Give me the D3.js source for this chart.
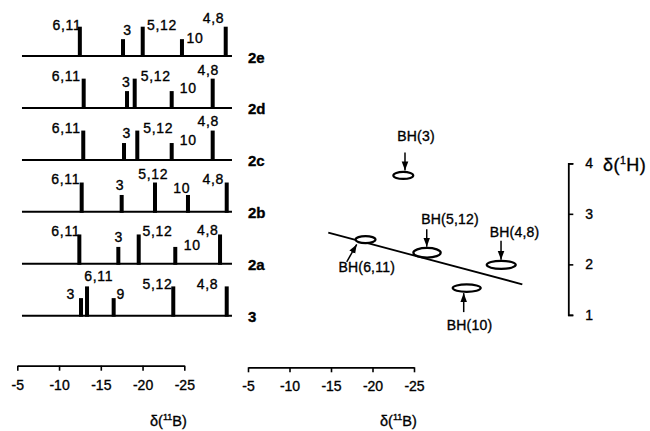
<!DOCTYPE html>
<html><head><meta charset="utf-8">
<script src="https://cdn.jsdelivr.net/npm/d3@7"></script>
<style>
body{margin:0;background:#fff}
svg{display:block;font-family:"Liberation Sans",Arial,Helvetica,sans-serif}
svg text{stroke:#000;stroke-width:0.35px;fill:#000}
</style></head><body>
<svg id="c" width="650" height="431"></svg>
<script>
// ---------- data ----------
const spectrumIds = ["2e","2d","2c","2b","2a","3"];
const peakLabels = [
  ["6,11","3","5,12","10","4,8"],
  ["6,11","3","5,12","10","4,8"],
  ["6,11","3","5,12","10","4,8"],
  ["6,11","3","5,12","10","4,8"],
  ["6,11","3","5,12","10","4,8"],
  ["3","6,11","9","5,12","4,8"]
];
// δ(11B)
const peakShifts = [
  [-12.49,-17.66,-20.02,-24.72,-29.96],
  [-12.95,-18.14,-19.06,-23.49,-28.40],
  [-12.90,-17.78,-19.37,-23.49,-28.40],
  [-12.71,-17.50,-21.49,-25.44,-30.08],
  [-12.43,-17.10,-19.54,-23.92,-29.28],
  [-12.63,-13.35,-16.54,-23.68,-30.08]
];
const peakIntensities = [
  [2,1.15,2,1.15,2],
  [2,1.15,2,1.15,2],
  [2,1.15,2,1.15,2],
  [2,1.15,2,1.15,2],
  [2,1.15,2,1.15,2],
  [1.2,2,1.2,2,2]
];
const baselineExtent = [-5.56,-30.71];
const xTicks = [-5,-10,-15,-20,-25];

const crossLabels = ["BH(6,11)","BH(3)","BH(5,12)","BH(10)","BH(4,8)"];
const crossB = [-19.16,-23.71,-26.57,-31.35,-35.51];
const crossH = [2.49,3.76,2.23,1.53,1.99];
const crossHalfWidthB = [1.2,1.2,1.65,1.69,1.75];
const crossHalfHeightH = [0.07,0.07,0.095,0.073,0.079];
const corrLineB = [-14.67,-38.05];
const corrLineH = [2.627,1.606];
const hTicks = [1,2,3,4];

// ---------- layout (pixel offsets for annotations) ----------
const peakLabelOffsets = [
  [[-12.8,-2],[4.5,-9.5],[19.3,-2],[13,-1],[-12.2,-9]],
  [[-17.5,-2.3],[-0.7,-8.7],[21.1,-2.3],[16.6,-2.7],[-4.5,-8.3]],
  [[-17.1,-2.7],[2.7,-10.3],[20.9,-2.7],[16.6,-3.3],[-4.5,-9.7]],
  [[-15.9,-4],[-1.7,-9.7],[-1.7,-9],[-6.3,-6.7],[-13.5,-3.7]],
  [[-13.5,-3.3],[0.5,-9.7],[18.8,-3.3],[16.9,-1.7],[-12.2,-4]],
  [[-10.2,-4.3],[11.7,-10.5],[7.1,-4.3],[-15.8,-2.5],[-19.2,-2.5]]
];
// [labelDx,labelDy, arrowX0,arrowY0, arrowX1,arrowY1] relative to ellipse centre
const crossAnnot = [
  [1.2,27.2,-18.8,22.2,-8.8,4.8],
  [12.7,-39.5,1.7,-23,1.7,-5],
  [23,-34.2,-0.3,-23.5,-0.3,-6],
  [2.8,37,-3,24,-3,5],
  [13.3,-33.3,-0.2,-24,-0.2,-5]
];

const svg = d3.select("#c");
svg.append("defs").append("marker")
  .attr("id","ah").attr("markerUnits","userSpaceOnUse")
  .attr("viewBox","0 -4 9 8").attr("refX",9).attr("refY",0)
  .attr("markerWidth",9).attr("markerHeight",8).attr("orient","auto")
  .append("path").attr("d","M0,-3.3L9,0L0,3.3Z").attr("fill","#000");

// ---------- left: stacked 11B spectra ----------
const xL = d3.scaleLinear().domain([-5,-25]).range([17.3,184.3]);
const yRow = d3.scalePoint().domain(spectrumIds).range([56,315.7]);
const hScale = d3.scaleLinear().domain([0,2]).range([0,29.3]);

spectrumIds.forEach((id,i)=>{
  const g = svg.append("g");
  const y0 = yRow(id);
  g.append("line")
    .attr("x1",xL(baselineExtent[0])).attr("x2",xL(baselineExtent[1]))
    .attr("y1",y0).attr("y2",y0).attr("stroke","#000").attr("stroke-width",2);
  const peaks = peakShifts[i].map((s,j)=>({s,h:peakIntensities[i][j],label:peakLabels[i][j],off:peakLabelOffsets[i][j]}));
  g.selectAll("rect").data(peaks).join("rect")
    .attr("x",d=>xL(d.s)-2).attr("width",4)
    .attr("y",d=>y0-hScale(d.h)).attr("height",d=>hScale(d.h)+1).attr("fill","#000");
  g.selectAll("text.pk").data(peaks).join("text").attr("class","pk")
    .attr("x",d=>xL(d.s)+d.off[0]).attr("y",d=>y0-hScale(d.h)+d.off[1])
    .attr("text-anchor","middle").attr("dominant-baseline","central")
    .attr("font-size",14).attr("letter-spacing",0.7).text(d=>d.label);
  g.append("text").attr("x",248).attr("y",y0+1).attr("dominant-baseline","central")
    .attr("font-weight","bold").attr("font-size",15).text(id);
});

function styleAxis(g){
  g.attr("font-family",null).attr("font-size",14);
  g.select(".domain").attr("stroke-width",1.8);
  g.selectAll(".tick line").attr("stroke-width",1.6);
}
svg.append("g").attr("transform","translate(0,365.7)")
  .call(d3.axisBottom(xL).tickValues(xTicks).tickSize(5).tickSizeOuter(0).tickPadding(9).tickFormat(d=>String(d)))
  .call(styleAxis);

function bLabel(x){
  const t = svg.append("text").attr("x",x).attr("y",426).attr("font-size",14.5);
  t.append("tspan").text("δ(");
  t.append("tspan").attr("font-size",9).attr("dy",-6).text("11");
  t.append("tspan").attr("dy",6).text("B)");
}
bLabel(150);

// ---------- right: 2D correlation ----------
const xR = d3.scaleLinear().domain([-5,-25]).range([248,414]);
const yR = d3.scaleLinear().domain([1,4]).range([314.9,163.3]);

svg.append("path")
  .datum(corrLineB.map((b,i)=>[b,corrLineH[i]]))
  .attr("d",d3.line().x(d=>xR(d[0])).y(d=>yR(d[1])))
  .attr("stroke","#000").attr("stroke-width",1.8).attr("fill","none");

const cross = crossLabels.map((l,i)=>({l,b:crossB[i],h:crossH[i],wb:crossHalfWidthB[i],wh:crossHalfHeightH[i],a:crossAnnot[i]}));
svg.selectAll("ellipse").data(cross).join("ellipse")
  .attr("cx",d=>xR(d.b)).attr("cy",d=>yR(d.h))
  .attr("rx",d=>Math.abs(xR(d.b+d.wb)-xR(d.b)))
  .attr("ry",d=>Math.abs(yR(d.h+d.wh)-yR(d.h)))
  .attr("fill","#fff").attr("stroke","#000").attr("stroke-width",2.2);
svg.selectAll("line.arr").data(cross).join("line").attr("class","arr")
  .attr("x1",d=>xR(d.b)+d.a[2]).attr("y1",d=>yR(d.h)+d.a[3])
  .attr("x2",d=>xR(d.b)+d.a[4]).attr("y2",d=>yR(d.h)+d.a[5])
  .attr("stroke","#000").attr("stroke-width",1.5).attr("marker-end","url(#ah)");
svg.selectAll("text.cl").data(cross).join("text").attr("class","cl")
  .attr("x",d=>xR(d.b)+d.a[0]).attr("y",d=>yR(d.h)+d.a[1])
  .attr("text-anchor","middle").attr("dominant-baseline","central")
  .attr("font-size",14).attr("letter-spacing",0.2).text(d=>d.l);

svg.append("g").attr("transform","translate(0,367.3)")
  .call(d3.axisBottom(xR).tickValues(xTicks).tickSize(5).tickSizeOuter(0).tickPadding(9).tickFormat(d=>String(d)))
  .call(styleAxis);
bLabel(380);

svg.append("g").attr("transform","translate(568.3,0)")
  .call(d3.axisRight(yR).tickValues(hTicks).tickSize(5).tickSizeOuter(5).tickPadding(12).tickFormat(d=>String(d)))
  .call(styleAxis);
const ht = svg.append("text").attr("x",603).attr("y",171).attr("font-size",18).attr("letter-spacing",0.5);
ht.append("tspan").text("δ(");
ht.append("tspan").attr("font-size",10.5).attr("dy",-7).text("1");
ht.append("tspan").attr("dy",7).text("H)");
</script>
</body></html>
